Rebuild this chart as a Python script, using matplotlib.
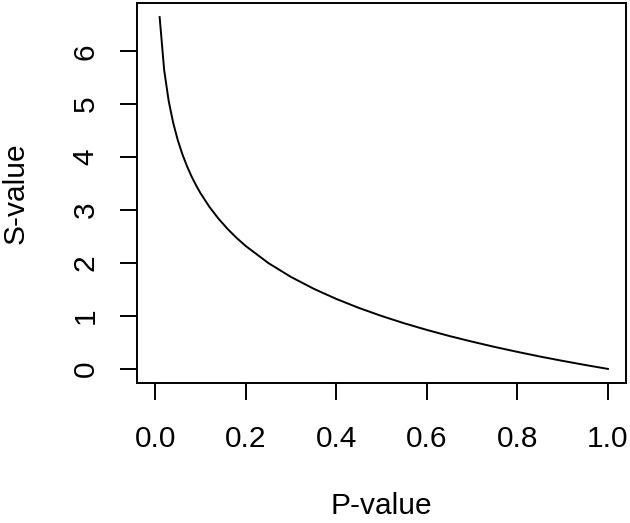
import matplotlib
matplotlib.use("Agg")
import matplotlib.pyplot as plt

# values
p_value = [0.01, 0.02, 0.03, 0.04, 0.05, 0.06, 0.07, 0.08, 0.09, 0.10,
           0.12, 0.14, 0.16, 0.18, 0.20, 0.25, 0.30, 0.35, 0.40, 0.45,
           0.50, 0.55, 0.60, 0.65, 0.70, 0.75, 0.80, 0.85, 0.90, 0.95, 1.00]
s_value = [6.644, 5.644, 5.059, 4.644, 4.322, 4.059, 3.837, 3.644, 3.474, 3.322,
           3.059, 2.837, 2.644, 2.474, 2.322, 2.000, 1.737, 1.515, 1.322, 1.152,
           1.000, 0.862, 0.737, 0.621, 0.515, 0.415, 0.322, 0.234, 0.152, 0.074, 0.000]
x_ticks = [0.0, 0.2, 0.4, 0.6, 0.8, 1.0]
y_ticks = [0, 1, 2, 3, 4, 5, 6]

plt.rcParams['font.family'] = ['Liberation Sans', 'DejaVu Sans']

fig = plt.figure(figsize=(6.3, 5.23), dpi=100)
ax = fig.add_axes([137 / 630, 1 - 383 / 523, 489 / 630, 380 / 523])

ax.plot(p_value, s_value, color='black', linewidth=1.4)

ax.set_xlim(-0.04, 1.04)
ax.set_ylim(-0.266, 6.91)
ax.set_xticks(x_ticks)
ax.set_xticklabels(['0.0', '0.2', '0.4', '0.6', '0.8', '1.0'])
ax.set_yticks(y_ticks)
ax.set_yticklabels([str(v) for v in y_ticks], rotation=90, va='center')

for s in ax.spines.values():
    s.set_linewidth(1.4)
ax.tick_params(axis='both', direction='out', length=12, width=1.4,
               labelsize=21.5, color='black')
ax.tick_params(axis='x', pad=18)
ax.tick_params(axis='y', pad=15)

ax.set_xlabel('P-value', fontsize=21.5, labelpad=28)
ax.set_ylabel('S-value', fontsize=21.5, labelpad=30)

fig.savefig('out.png', dpi=100)
